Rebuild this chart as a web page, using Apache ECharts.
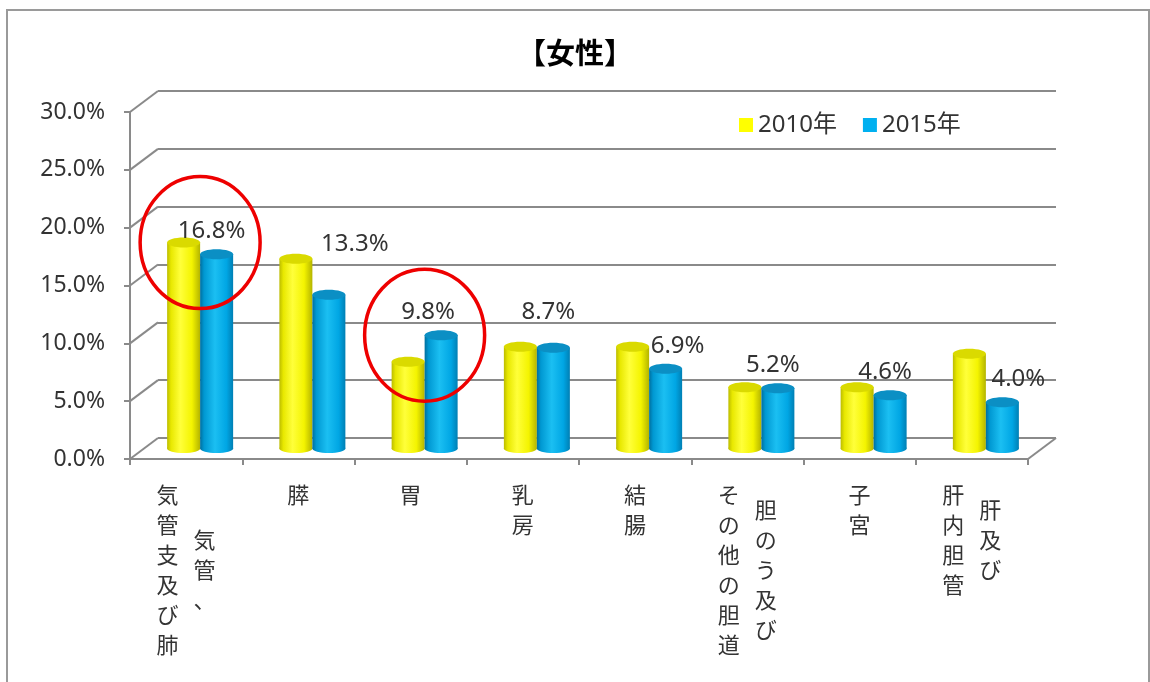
<!DOCTYPE html>
<html><head><meta charset="utf-8">
<script src="https://cdn.jsdelivr.net/npm/echarts@6/dist/echarts.min.js"></script>
<style>html,body{margin:0;padding:0;background:#fff}#c{width:1150px;height:682px}</style>
</head><body><div id="c"></div>
<script>
// ---- data ----
const categories = ['気管、気管支及び肺','膵','胃','乳房','結腸','胆のう及びその他の胆道','子宮','肝及び肝内胆管'];
// label columns in reading order (vertical writing, right column first)
const labelColumns = [['気管、','気管支及び肺'],['膵'],['胃'],['乳房'],['結腸'],['胆のう及び','その他の胆道'],['子宮'],['肝及び','肝内胆管']];
const seriesNames = ['2010年','2015年'];
const values2010 = [17.8, 16.4, 7.5, 8.8, 8.8, 5.3, 5.3, 8.2];
const values2015 = [16.8, 13.3, 9.8, 8.7, 6.9, 5.2, 4.6, 4.0];
const yTicks = [0, 5, 10, 15, 20, 25, 30];
const highlighted = [0, 2];
const titleText = '【女性】';

// ---- styling ----
const DX = 28, DY = 21, LINE_H = 30, COL_SHIFT = 37;
const GRID_W = 898, GRID_H = 347, FRONT_L = 130, FRONT_T = 112;
const BAR_W = 33;
const grey = '#8a8a8a';
const numFont = 'Noto Sans, Noto Sans CJK JP, sans-serif';
const jpFont = 'Noto Sans CJK JP, Noto Sans, sans-serif';
// per-label placement nudges (pixels, style only) mimicking the original label layout
const labelNudgeX = [-5, 26, -13, -5, 12, -5, -5, 16];
const labelNudgeY = [0, 28, 0, 13, 0, 0, 0, 0];

function vertical(str, style){ return Array.from(str).map(ch => '{' + style + '|' + ch + '}').join('\n'); }
const rich = {
  c: {fontSize: 22, lineHeight: LINE_H, color: '#333', fontFamily: jpFont},
  l: {fontSize: 22, lineHeight: LINE_H, color: '#333', fontFamily: jpFont, padding: [0, COL_SHIFT, 0, 0]},
  r: {fontSize: 22, lineHeight: LINE_H, color: '#333', fontFamily: jpFont, padding: [0, 0, 0, COL_SHIFT]}
};
labelColumns.forEach(cols => {
  if (cols.length > 1) {
    const off = (Array.from(cols[1]).length - Array.from(cols[0]).length) * LINE_H / 2;
    rich['sp' + off] = {fontSize: 1, lineHeight: off};
  }
});

const lin = (stops) => new echarts.graphic.LinearGradient(0, 0, 1, 0, stops.map(c => ({offset: c[0], color: c[1]})));
const yellowBody = () => lin([[0,'#bcbc00'],[0.12,'#e8e800'],[0.4,'#ffff3a'],[0.75,'#f4f400'],[1,'#b4b400']]);
const blueBody = () => lin([[0,'#006f9e'],[0.12,'#0098d2'],[0.45,'#1bbff2'],[0.8,'#00a6e4'],[1,'#007fb4']]);
const bodies = [yellowBody, blueBody];
const caps = ['#dada00', '#0b8fc4'];
const legendColors = ['#ffff00', '#00b0f0'];
const allValues = [values2010, values2015];

const chart = echarts.init(document.getElementById('c'), null, {renderer: 'canvas'});

const barSeries = allValues.map((vals, k) => ({
  name: seriesNames[k], type: 'bar', xAxisIndex: 3, yAxisIndex: 2,
  data: vals, barWidth: BAR_W, barGap: '0%', z: 2,
  itemStyle: {color: bodies[k]()}
}));
const sideOffset = k => (k === 0 ? -BAR_W / 2 : BAR_W / 2);
const bottomCaps = allValues.map((vals, k) => ({
  name: seriesNames[k], type: 'custom', xAxisIndex: 3, yAxisIndex: 2, z: 1, silent: true,
  data: vals.map((v, i) => [i, v]),
  renderItem: (params, api) => {
    const base = api.coord([api.value(0), 0]);
    return {type: 'ellipse', shape: {cx: base[0] + sideOffset(k), cy: base[1], rx: BAR_W / 2, ry: 4.5},
      style: {fill: bodies[k]()}};
  }
}));
const topCaps = allValues.map((vals, k) => ({
  name: seriesNames[k], type: 'custom', xAxisIndex: 3, yAxisIndex: 2, z: 3, silent: true,
  data: vals.map((v, i) => [i, v]),
  renderItem: (params, api) => {
    const i = api.value(0);
    const p = api.coord([i, api.value(1)]);
    const cx = p[0] + sideOffset(k);
    const children = [{type: 'ellipse', shape: {cx: cx, cy: p[1], rx: BAR_W / 2, ry: 5},
      style: {fill: caps[k]}}];
    if (k === 1) children.push({type: 'text', z2: 10, style: {
      text: api.value(1).toFixed(1) + '%', x: cx + labelNudgeX[i], y: p[1] - 11 - labelNudgeY[i],
      align: 'center', verticalAlign: 'bottom', fontSize: 24, fontFamily: numFont, fill: '#333'}});
    return {type: 'group', children};
  }
}));

const option = {
  backgroundColor: '#fff',
  animation: false,
  title: {text: titleText, left: 'center', top: 33,
    textStyle: {fontSize: 29, fontWeight: 'bold', color: '#000', fontFamily: jpFont}},
  legend: {
    left: 734, top: 108, itemWidth: 14, itemHeight: 14, itemGap: 26, icon: 'rect',
    textStyle: {fontSize: 24, color: '#333', fontFamily: numFont},
    data: seriesNames.map((n, k) => ({name: n, itemStyle: {color: legendColors[k]}}))
  },
  graphic: [{type: 'rect', shape: {x: 7, y: 10, width: 1142, height: 700},
    style: {fill: 'none', stroke: '#9a9a9a', lineWidth: 2}, silent: true}],
  grid: [
    {left: FRONT_L, top: FRONT_T, width: GRID_W, height: GRID_H},
    {left: FRONT_L + DX, top: FRONT_T - DY, width: GRID_W, height: GRID_H},
    {left: FRONT_L + DX / 2, top: FRONT_T - DY / 2, width: GRID_W, height: GRID_H}
  ],
  xAxis: [
    {gridIndex: 0, type: 'category', data: categories, position: 'bottom',
      axisLine: {lineStyle: {color: grey, width: 2}},
      axisTick: {show: true, length: 6, lineStyle: {color: grey, width: 2}},
      axisLabel: {interval: 0, margin: 21, hideOverlap: false, rich: rich,
        formatter: (v, i) => { const cols = labelColumns[i];
          return cols.length === 1 ? vertical(cols[0], 'c') : vertical(cols[cols.length - 1], 'l'); }}},
    {gridIndex: 0, type: 'category', data: categories, position: 'bottom',
      axisLine: {show: false}, axisTick: {show: false},
      axisLabel: {interval: 0, margin: 21, hideOverlap: false, rich: rich,
        formatter: (v, i) => { const cols = labelColumns[i];
          if (cols.length === 1) return '';
          const off = (Array.from(cols[1]).length - Array.from(cols[0]).length) * LINE_H / 2;
          return '{sp' + off + '| }\n' + vertical(cols[0], 'r'); }}},
    {gridIndex: 1, type: 'category', data: categories, show: false},
    {gridIndex: 2, type: 'category', data: categories, show: false}
  ],
  yAxis: [
    {gridIndex: 0, type: 'value', min: 0, max: 30, interval: 5,
      axisLine: {show: true, lineStyle: {color: grey, width: 2}},
      axisTick: {show: true, length: 6, lineStyle: {color: grey, width: 2}},
      splitLine: {show: false},
      axisLabel: {margin: 25, fontSize: 23, color: '#333', fontFamily: numFont,
        formatter: v => v.toFixed(1) + '%'}},
    {gridIndex: 1, type: 'value', min: 0, max: 30, interval: 5,
      axisLine: {show: false}, axisTick: {show: false}, axisLabel: {show: false},
      splitLine: {show: true, lineStyle: {color: grey, width: 2}}},
    {gridIndex: 2, type: 'value', min: 0, max: 30, interval: 5, show: false}
  ],
  series: [
    {type: 'custom', xAxisIndex: 0, yAxisIndex: 0, silent: true, z: 1,
      data: yTicks.map(v => [0, v]),
      renderItem: (params, api) => {
        const cs = params.coordSys;
        const y = api.coord([0, api.value(1)])[1];
        const children = [{type: 'line', shape: {x1: cs.x, y1: y, x2: cs.x + DX, y2: y - DY},
          style: {stroke: grey, lineWidth: 2}}];
        if (api.value(1) === 0) children.push({type: 'line',
          shape: {x1: cs.x + cs.width, y1: y, x2: cs.x + cs.width + DX, y2: y - DY},
          style: {stroke: grey, lineWidth: 2}});
        return {type: 'group', children};
      }},
    ...bottomCaps, ...barSeries, ...topCaps,
    {type: 'custom', xAxisIndex: 3, yAxisIndex: 2, silent: true, z: 10,
      data: highlighted.map(i => [i, Math.max(values2010[i], values2015[i])]),
      renderItem: (params, api) => {
        const c = api.coord([api.value(0), api.value(1)]);
        return {type: 'ellipse', shape: {cx: c[0], cy: c[1], rx: 60, ry: 66},
          style: {fill: 'none', stroke: '#ee0000', lineWidth: 3.5}};
      }}
  ]
};
chart.setOption(option);
</script></body></html>
